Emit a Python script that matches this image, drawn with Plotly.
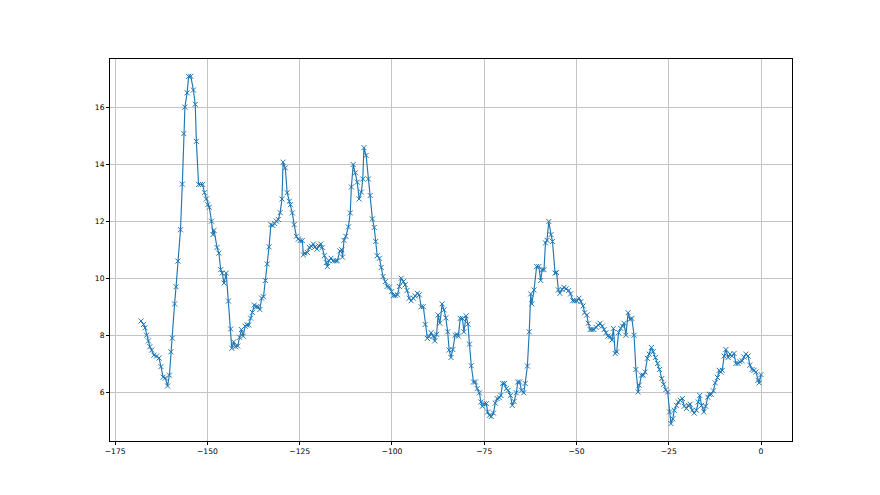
import plotly.graph_objects as go

x_vals = [
    -168.0, -167.3, -166.9, -166.5, -166.0, -165.6, -165.1, -164.5, -163.8, -163.1,
    -162.6, -162.0, -161.4, -160.8, -160.3, -159.9, -159.5, -158.9, -158.5, -158.0,
    -157.3, -156.8, -156.4, -156.1, -155.5, -155.1, -154.5, -153.8, -153.3, -153.0,
    -152.4, -151.9, -151.3, -150.8, -150.3, -149.9, -149.5, -148.9, -148.5, -148.2,
    -147.4, -146.9, -146.4, -146.0, -145.5, -144.9, -144.3, -143.7, -143.4, -142.9,
    -142.4, -141.8, -141.3, -140.8, -140.3, -139.8, -139.3, -138.8, -138.3, -137.8,
    -137.3, -136.8, -136.3, -135.8, -135.3, -134.8, -134.3, -133.8, -133.3, -132.8,
    -132.3, -131.8, -131.3, -130.8, -130.3, -129.8, -129.5, -128.9, -128.4, -127.8,
    -127.5, -127.0, -126.5, -125.9, -125.4, -124.9, -124.3, -124.0, -123.6, -122.9,
    -122.4, -121.8, -121.3, -120.9, -120.3, -119.8, -119.3, -118.9, -118.3, -117.8,
    -117.5, -117.1, -116.5, -115.9, -115.3, -114.8, -114.1, -113.6, -113.4, -113.0,
    -112.5, -111.8, -111.3, -111.0, -110.5, -109.9, -109.4, -108.9, -108.3, -107.9,
    -107.6, -107.0, -106.4, -105.9, -105.3, -104.8, -104.4, -104.0, -103.4, -102.9,
    -102.4, -101.8, -101.3, -100.7, -100.1, -99.6, -99.1, -98.5, -98.0, -97.5,
    -96.9, -96.4, -95.9, -95.3, -94.8, -94.2, -93.7, -93.1, -92.6, -92.1,
    -91.5, -91.0, -90.4, -89.9, -89.4, -88.8, -88.4, -87.9, -87.5, -87.0,
    -86.4, -85.9, -85.4, -84.9, -84.5, -84.0, -83.5, -82.9, -82.4, -82.0,
    -81.5, -80.9, -80.5, -79.9, -79.4, -79.0, -78.5, -77.9, -77.4, -76.9,
    -76.3, -75.9, -75.5, -75.0, -74.4, -74.1, -73.6, -73.1, -72.5, -72.0,
    -71.5, -70.9, -70.5, -70.0, -69.5, -69.0, -68.5, -67.9, -67.4, -66.9,
    -66.3, -65.9, -65.4, -64.9, -64.3, -63.9, -63.3, -62.8, -62.4, -62.1,
    -61.5, -60.8, -60.2, -59.7, -59.3, -58.8, -58.4, -58.0, -57.5, -56.9,
    -56.5, -55.8, -55.4, -54.9, -54.5, -53.9, -53.4, -52.8, -52.1, -51.6,
    -51.0, -50.5, -49.9, -49.3, -48.8, -48.2, -47.8, -47.2, -46.8, -46.3,
    -45.8, -45.3, -44.7, -44.1, -43.6, -43.0, -42.5, -42.0, -41.5, -40.9,
    -40.4, -40.0, -39.5, -39.1, -38.6, -38.0, -37.5, -37.1, -36.6, -36.0,
    -35.5, -35.0, -34.4, -33.9, -33.3, -33.0, -32.4, -31.9, -31.4, -30.8,
    -30.3, -29.7, -29.2, -28.6, -28.0, -27.5, -26.9, -26.4, -25.8, -25.3,
    -24.8, -24.4, -23.9, -23.5, -22.9, -22.4, -21.9, -21.3, -20.8, -20.2,
    -19.7, -19.2, -18.6, -18.1, -17.5, -17.0, -16.6, -16.1, -15.5, -15.0,
    -14.4, -14.0, -13.5, -12.9, -12.4, -11.8, -11.3, -10.9, -10.5, -10.0,
    -9.5, -8.9, -8.4, -7.9, -7.3, -6.8, -6.2, -5.7, -5.1, -4.6,
    -4.1, -3.5, -3.0, -2.4, -1.9, -1.4, -0.8, -0.5, 0.0,
]

y_vals = [
    8.50, 8.38, 8.26, 8.00, 7.80, 7.60, 7.48, 7.30, 7.27, 7.20,
    6.90, 6.53, 6.50, 6.22, 6.60, 7.42, 7.90, 9.10, 9.70, 10.60,
    11.70, 13.30, 15.07, 16.00, 16.50, 17.08, 17.08, 16.60, 16.10, 14.80,
    13.29, 13.29, 13.29, 13.00, 12.78, 12.58, 12.49, 12.00, 11.53, 11.68,
    11.08, 10.88, 10.30, 10.18, 9.83, 10.18, 9.20, 8.22, 7.54, 7.77,
    7.60, 7.62, 7.93, 8.20, 7.97, 8.32, 8.36, 8.36, 8.60, 8.80,
    9.06, 9.00, 9.00, 8.90, 9.30, 9.35, 9.92, 10.50, 11.10, 11.88,
    11.85, 11.92, 12.00, 12.06, 12.30, 12.78, 14.07, 13.87, 13.00, 12.70,
    12.58, 12.29, 11.88, 11.47, 11.37, 11.32, 11.32, 10.82, 10.88, 10.90,
    11.08, 11.12, 11.20, 11.09, 11.02, 11.14, 11.20, 11.08, 10.79, 10.55,
    10.41, 10.62, 10.70, 10.61, 10.61, 10.61, 10.96, 11.00, 10.74, 11.33,
    11.47, 11.80, 12.29, 13.20, 13.99, 13.70, 13.37, 12.78, 13.02, 13.48,
    14.58, 14.31, 13.48, 12.90, 12.08, 11.78, 11.29, 10.79, 10.70, 10.38,
    10.06, 9.88, 9.71, 9.69, 9.53, 9.39, 9.39, 9.42, 9.71, 10.00,
    9.88, 9.77, 9.57, 9.30, 9.21, 9.30, 9.38, 9.47, 9.42, 9.00,
    9.00, 8.38, 7.89, 7.95, 8.09, 7.97, 7.80, 8.03, 8.71, 8.42,
    9.10, 8.89, 8.61, 8.12, 7.48, 7.22, 7.50, 8.00, 8.03, 7.97,
    8.59, 8.59, 8.12, 8.68, 8.39, 7.69, 6.93, 6.36, 6.36, 6.13,
    5.98, 5.66, 5.51, 5.60, 5.60, 5.31, 5.19, 5.15, 5.27, 5.62,
    5.78, 5.81, 5.89, 6.31, 6.31, 6.13, 6.07, 5.89, 5.54, 5.68,
    5.98, 6.36, 6.36, 6.07, 5.98, 6.31, 6.92, 8.12, 9.45, 9.10,
    9.59, 10.41, 10.41, 9.92, 10.30, 10.30, 11.24, 11.33, 11.99, 11.53,
    11.29, 10.18, 10.20, 9.59, 9.47, 9.61, 9.68, 9.63, 9.57, 9.45,
    9.21, 9.21, 9.21, 9.30, 9.18, 9.03, 8.79, 8.71, 8.42, 8.20,
    8.20, 8.20, 8.28, 8.36, 8.42, 8.32, 8.20, 8.09, 7.97, 7.95,
    7.83, 8.24, 7.36, 7.42, 8.09, 8.24, 8.32, 8.42, 8.00, 8.79,
    8.56, 8.59, 8.00, 6.80, 6.01, 6.25, 6.60, 6.60, 6.71, 7.19,
    7.34, 7.57, 7.42, 7.22, 7.01, 6.80, 6.48, 6.28, 6.09, 6.01,
    5.31, 4.90, 5.07, 5.37, 5.54, 5.66, 5.72, 5.78, 5.51, 5.43,
    5.54, 5.58, 5.37, 5.27, 5.37, 5.66, 5.89, 5.54, 5.31, 5.51,
    5.83, 5.93, 5.93, 6.05, 6.33, 6.52, 6.77, 6.71, 6.77, 7.27,
    7.50, 7.22, 7.34, 7.27, 7.36, 7.01, 7.01, 7.07, 7.10, 7.24,
    7.34, 7.27, 6.95, 6.80, 6.77, 6.71, 6.42, 6.33, 6.62,
]

x_ticks = [-175, -150, -125, -100, -75, -50, -25, 0]
x_tick_labels = ["\u2212175", "\u2212150", "\u2212125", "\u2212100", "\u221275", "\u221250", "\u221225", "0"]
y_ticks = [6, 8, 10, 12, 14, 16]
y_tick_labels = ["6", "8", "10", "12", "14", "16"]

color = "#1f77b4"

fig = go.Figure()
fig.add_trace(go.Scatter(
    x=x_vals, y=y_vals, mode="lines+markers",
    line=dict(color=color, width=1.15),
    marker=dict(symbol="x-thin", size=5, line=dict(color=color, width=1), color=color),
    showlegend=False,
))

xmin, xmax = min(x_vals), max(x_vals)
ymin, ymax = min(y_vals), max(y_vals)
xm = (xmax - xmin) * 0.05
ym = (ymax - ymin) * 0.05

axis_common = dict(
    showgrid=True, gridcolor="#c4c4c4", gridwidth=0.7,
    showline=True, linecolor="#000000", linewidth=1, mirror=True,
    ticks="outside", ticklen=3, tickwidth=0.8, tickcolor="#000000",
    tickfont=dict(family="DejaVu Sans", size=7.6, color="#000000"),
    zeroline=False,
)

# The page body has an 8px margin, so the figure is drawn at (8, 8).
fig.update_layout(
    width=872, height=487,
    margin=dict(l=102, r=88, t=51, b=54),
    paper_bgcolor="white", plot_bgcolor="white",
    xaxis=dict(range=[xmin - xm, xmax + xm], tickvals=x_ticks, ticktext=x_tick_labels, **axis_common),
    yaxis=dict(range=[ymin - ym, ymax + ym], tickvals=y_ticks, ticktext=y_tick_labels, **axis_common),
)

fig.write_html("out.html")
